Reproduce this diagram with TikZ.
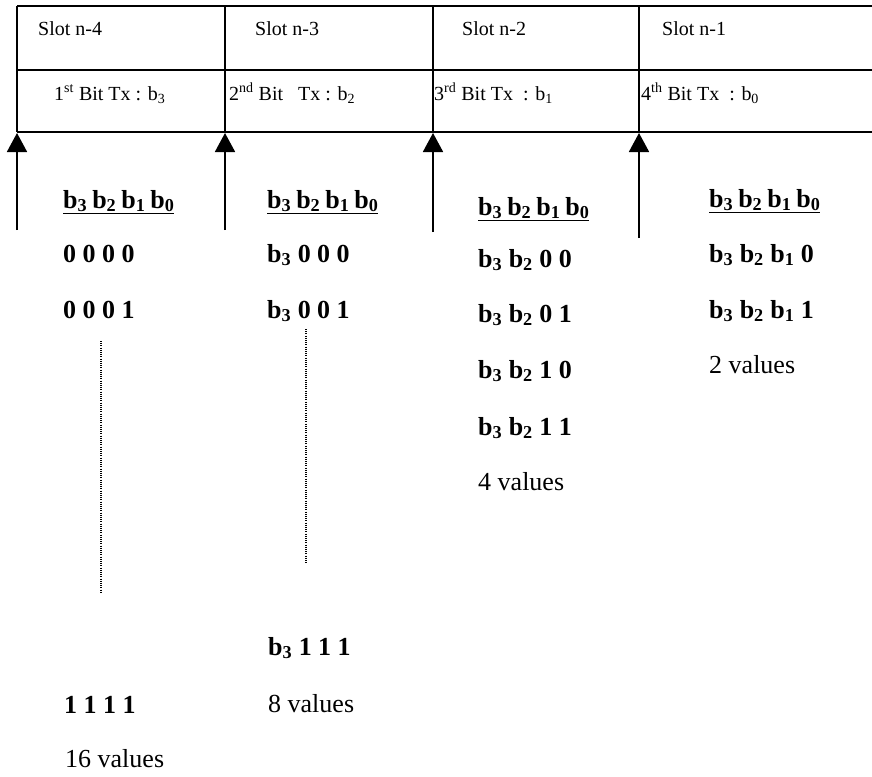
\documentclass[tikz,border=0pt]{standalone}
\usepackage{fontspec}
\setmainfont{Liberation Serif}
\usetikzlibrary{arrows.meta}
\newcommand{\bsub}[1]{b\textsubscript{#1}}
\begin{document}
\begin{tikzpicture}[x=1pt,y=-1pt,
  tbl/.style={anchor=base west, inner sep=0pt, font=\fontsize{20}{24}\selectfont},
  val/.style={anchor=base west, inner sep=0pt, font=\fontsize{26}{31}\selectfont\bfseries},
  cnt/.style={anchor=base west, inner sep=0pt, font=\fontsize{26}{31}\selectfont},
  gridline/.style={line width=1.4pt},
  uparrow/.style={line width=1.8pt, -{Triangle[length=19pt,width=20pt]}},
  dots/.style={line width=1.3pt, dash pattern=on 1pt off 1.2pt}]
\useasboundingbox (0,0) rectangle (872,776);

% table frame
\coordinate (tl) at (17,6);
\coordinate (tr) at (872,6);
\coordinate (ml) at (17,70);
\coordinate (mr) at (872,70);
\coordinate (bl) at (17,132);
\coordinate (br) at (872,132);
\draw[gridline] (tl) -- (tr);
\draw[gridline] (ml) -- (mr);
\draw[gridline] (bl) -- (br);
\foreach \x/\n in {17/a,225/b,433/c,639/d}{
  \coordinate (top\n) at (\x,6);
  \coordinate (bot\n) at (\x,132);
  \draw[gridline] (top\n) -- (bot\n);
}

% table texts
\node[tbl] (s4) at (38,36) {Slot n-4};
\node[tbl] (s3) at (255,36) {Slot n-3};
\node[tbl] (s2) at (462,36) {Slot n-2};
\node[tbl] (s1) at (662,36) {Slot n-1};
\node[tbl] (t1) at (54,100) {1\textsuperscript{st} Bit Tx : b\textsubscript{3}};
\node[tbl] (t2) at (229,100) {2\textsuperscript{nd} Bit\ \ \ Tx : b\textsubscript{2}};
\node[tbl] (t3) at (434,100) {3\textsuperscript{rd} Bit Tx\ \ : b\textsubscript{1}};
\node[tbl] (t4) at (641,100) {4\textsuperscript{th} Bit Tx\ \ : b\textsubscript{0}};

% arrows
\coordinate (a1) at (17,230);  \coordinate (h1) at (17,133);
\coordinate (a2) at (225,230); \coordinate (h2) at (225,133);
\coordinate (a3) at (433,232); \coordinate (h3) at (433,133);
\coordinate (a4) at (639,238); \coordinate (h4) at (639,133);
\draw[uparrow] (a1) -- (h1);
\draw[uparrow] (a2) -- (h2);
\draw[uparrow] (a3) -- (h3);
\draw[uparrow] (a4) -- (h4);

% column 1
\node[val] (h1t) at (63,208) {\underline{\bsub{3}\hspace{-1.5pt} \bsub{2}\hspace{-1.5pt} \bsub{1}\hspace{-1.5pt} \bsub{0}}};
\node[val] (c1r1) at (63,262) {0 0 0 0};
\node[val] (c1r2) at (63,318) {0 0 0 1};
\coordinate (d1a) at (101,341);
\coordinate (d1b) at (101,592);
\draw[dots] (d1a) -- (d1b);
\node[val] (c1r3) at (64,713) {1 1 1 1};
\node[cnt] (c1n) at (65,767) {16 values};

% column 2
\node[val] (h2t) at (267,208) {\underline{\bsub{3}\hspace{-1.5pt} \bsub{2}\hspace{-1.5pt} \bsub{1}\hspace{-1.5pt} \bsub{0}}};
\node[val] (c2r1) at (267,262) {\bsub{3} 0 0 0};
\node[val] (c2r2) at (267,318) {\bsub{3} 0 0 1};
\coordinate (d2a) at (306,329);
\coordinate (d2b) at (306,564);
\draw[dots] (d2a) -- (d2b);
\node[val] (c2r3) at (268,655) {\bsub{3} 1 1 1};
\node[cnt] (c2n) at (268,712) {8 values};

% column 3
\node[val] (h3t) at (478,215) {\underline{\bsub{3}\hspace{-1.5pt} \bsub{2}\hspace{-1.5pt} \bsub{1}\hspace{-1.5pt} \bsub{0}}};
\node[val] (c3r1) at (478,267) {\bsub{3} \bsub{2} 0 0};
\node[val] (c3r2) at (478,322) {\bsub{3} \bsub{2} 0 1};
\node[val] (c3r3) at (478,378) {\bsub{3} \bsub{2} 1 0};
\node[val] (c3r4) at (478,435) {\bsub{3} \bsub{2} 1 1};
\node[cnt] (c3n) at (478,490) {4 values};

% column 4
\node[val] (h4t) at (709,207) {\underline{\bsub{3}\hspace{-1.5pt} \bsub{2}\hspace{-1.5pt} \bsub{1}\hspace{-1.5pt} \bsub{0}}};
\node[val] (c4r1) at (709,262) {\bsub{3} \bsub{2} \bsub{1} 0};
\node[val] (c4r2) at (709,318) {\bsub{3} \bsub{2} \bsub{1} 1};
\node[cnt] (c4n) at (709,373) {2 values};
\end{tikzpicture}
\end{document}
